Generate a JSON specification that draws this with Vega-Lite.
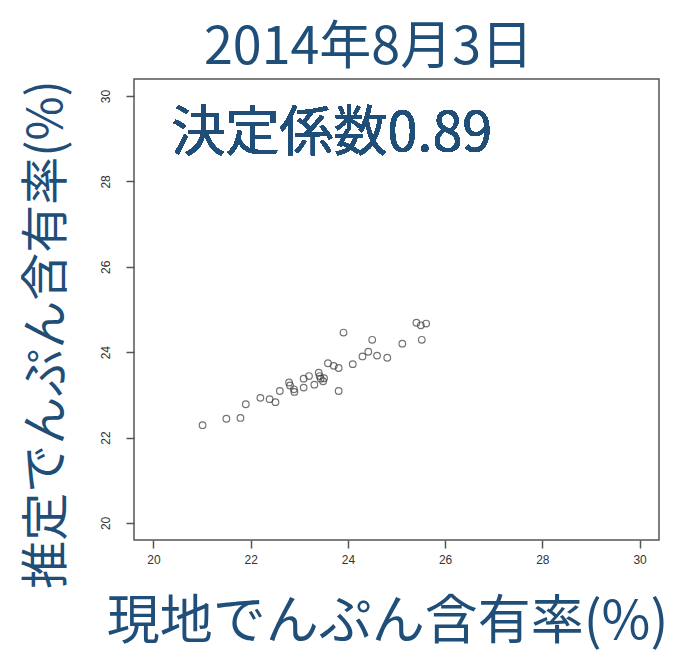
{
  "$schema": "https://vega.github.io/schema/vega-lite/v6.json",
  "autosize": {"type": "none"},
  "width": 525,
  "height": 461,
  "padding": {"left": 134, "top": 79, "right": 21, "bottom": 115},
  "background": "white",
  "title": {
    "text": "2014年8月3日",
    "font": "Noto Sans CJK JP",
    "fontSize": 52,
    "fontWeight": "normal",
    "color": "#1F4E79",
    "anchor": "middle",
    "frame": "group",
    "baseline": "alphabetic",
    "dx": -28,
    "offset": -37
  },
  "config": {
    "view": {"stroke": "#555555", "strokeWidth": 1.5},
    "axis": {
      "grid": false,
      "domain": false,
      "tickColor": "#555555",
      "tickWidth": 1.5,
      "tickSize": 8,
      "labelFont": "Liberation Sans",
      "labelFontSize": 12,
      "labelColor": "#333333",
      "titleFont": "Noto Sans CJK JP",
      "titleFontWeight": "normal",
      "titleColor": "#1F4E79"
    }
  },
  "data": {
    "values": [
      {"genchi": 21.01, "suitei": 22.29},
      {"genchi": 21.50, "suitei": 22.44},
      {"genchi": 21.79, "suitei": 22.46},
      {"genchi": 21.90, "suitei": 22.78},
      {"genchi": 22.20, "suitei": 22.93},
      {"genchi": 22.39, "suitei": 22.90},
      {"genchi": 22.51, "suitei": 22.83},
      {"genchi": 22.60, "suitei": 23.09},
      {"genchi": 22.79, "suitei": 23.29},
      {"genchi": 22.81, "suitei": 23.22},
      {"genchi": 22.89, "suitei": 23.13},
      {"genchi": 22.90, "suitei": 23.07},
      {"genchi": 23.09, "suitei": 23.38},
      {"genchi": 23.20, "suitei": 23.44},
      {"genchi": 23.09, "suitei": 23.17},
      {"genchi": 23.31, "suitei": 23.24},
      {"genchi": 23.40, "suitei": 23.52},
      {"genchi": 23.42, "suitei": 23.44},
      {"genchi": 23.44, "suitei": 23.38},
      {"genchi": 23.49, "suitei": 23.32},
      {"genchi": 23.51, "suitei": 23.39},
      {"genchi": 23.59, "suitei": 23.74},
      {"genchi": 23.71, "suitei": 23.68},
      {"genchi": 23.81, "suitei": 23.63},
      {"genchi": 23.81, "suitei": 23.09},
      {"genchi": 23.91, "suitei": 24.46},
      {"genchi": 24.10, "suitei": 23.72},
      {"genchi": 24.30, "suitei": 23.90},
      {"genchi": 24.42, "suitei": 24.01},
      {"genchi": 24.50, "suitei": 24.29},
      {"genchi": 24.60, "suitei": 23.92},
      {"genchi": 24.81, "suitei": 23.87},
      {"genchi": 25.12, "suitei": 24.20},
      {"genchi": 25.41, "suitei": 24.69},
      {"genchi": 25.50, "suitei": 24.63},
      {"genchi": 25.61, "suitei": 24.67},
      {"genchi": 25.52, "suitei": 24.29}
    ]
  },
  "layer": [
    {
      "mark": {"type": "point", "shape": "circle", "filled": false, "stroke": "#3a3a3a", "strokeWidth": 1.2, "size": 44, "clip": true},
      "encoding": {
        "x": {
          "field": "genchi",
          "type": "quantitative",
          "scale": {"domain": [19.6, 30.4], "nice": false, "zero": false},
          "axis": {
            "values": [20, 22, 24, 26, 28, 30],
            "labelPadding": 6,
            "title": "現地でんぷん含有率(%)",
            "titleFontSize": 53,
            "titlePadding": 31,
            "titleX": 253
          }
        },
        "y": {
          "field": "suitei",
          "type": "quantitative",
          "scale": {"domain": [19.6, 30.4], "nice": false, "zero": false},
          "axis": {
            "values": [20, 22, 24, 26, 28, 30],
            "labelAngle": -90,
            "labelAlign": "center",
            "labelBaseline": "bottom",
            "labelPadding": 14,
            "title": "推定でんぷん含有率(%)",
            "titleFontSize": 48,
            "titlePadding": 28,
            "titleY": 255
          }
        }
      }
    },
    {
      "mark": {"type": "text", "text": "決定係数0.89", "font": "Noto Sans CJK JP", "fontSize": 54, "color": "#1F4E79", "align": "center", "baseline": "middle"},
      "encoding": {
        "x": {"datum": 23.67, "type": "quantitative"},
        "y": {"datum": 29.08, "type": "quantitative"}
      }
    }
  ]
}
